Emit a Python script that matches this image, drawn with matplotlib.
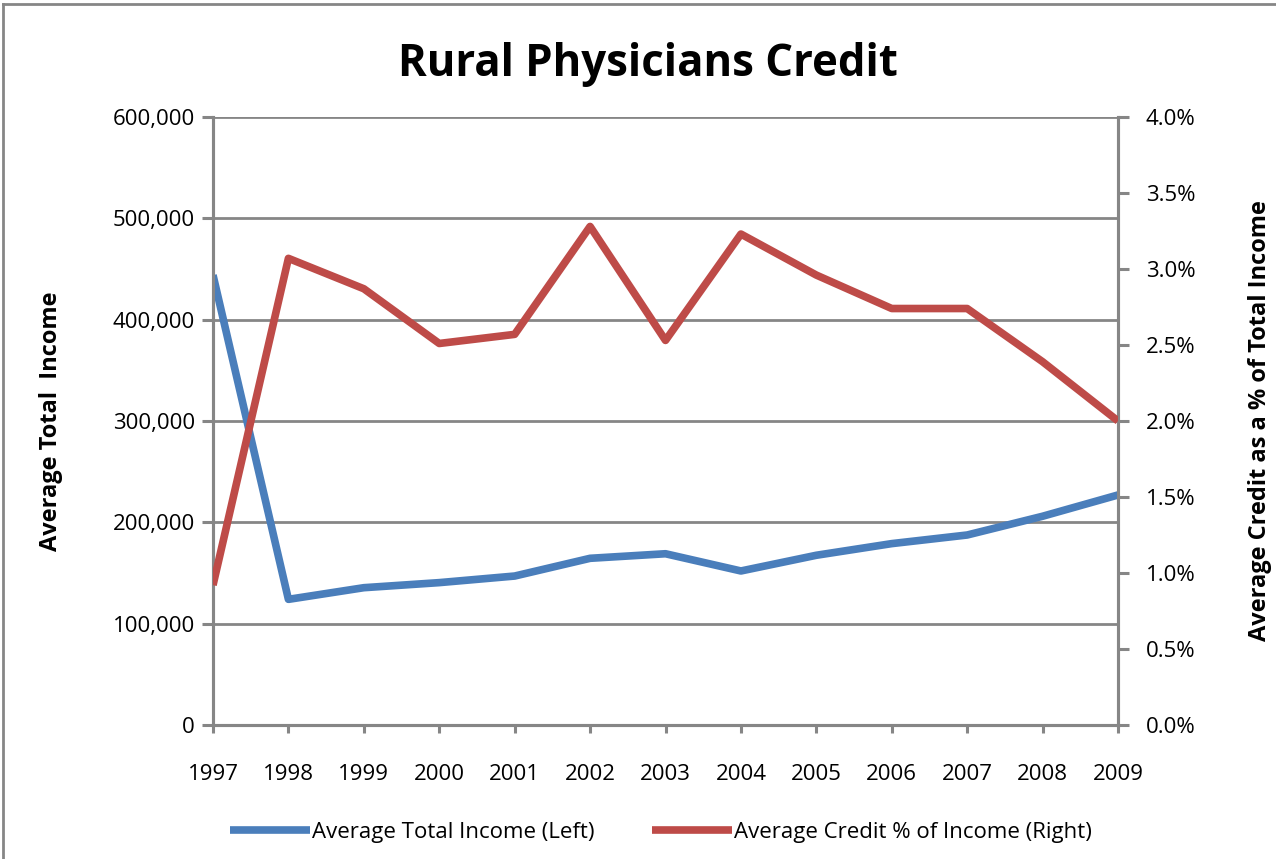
import numpy as np
import matplotlib.pyplot as plt
from matplotlib.lines import Line2D
from matplotlib.ticker import FuncFormatter, MultipleLocator

years = [1997, 1998, 1999, 2000, 2001, 2002, 2003, 2004, 2005, 2006, 2007, 2008, 2009]
avg_income = [444000, 124000, 135500, 140500, 147000, 164500, 169000, 152000,
              167500, 179000, 187500, 206000, 227000]
credit_pct = [0.92, 3.07, 2.87, 2.51, 2.57, 3.28, 2.53, 3.23, 2.96, 2.74, 2.74, 2.39, 2.00]

title = "Rural Physicians Credit"
left_label = "Average Total  Income"
right_label = "Average Credit as a % of Total Income"
income_name = "Average Total Income (Left)"
credit_name = "Average Credit % of Income (Right)"

blue = '#4A7EBB'
red = '#BE4B48'
grey = '#868686'

plt.rcParams['font.family'] = ['Open Sans', 'DejaVu Sans']

fig = plt.figure(figsize=(12.76, 8.59), dpi=100)
ax = fig.add_axes([213/1276, 1 - 725/859, (1118 - 213)/1276, (725 - 117)/859])
ax2 = ax.twinx()

# left axis: income
l1, = ax.plot(years, avg_income, color=blue, lw=5.5, solid_capstyle='butt', zorder=3)
ax.set_xlim(1997, 2009)
ax.set_ylim(0, 600000)
ax.yaxis.set_major_locator(MultipleLocator(100000))
ax.yaxis.set_major_formatter(FuncFormatter(lambda v, p: f"{int(v):,}"))
ax.set_xticks(years)
ax.grid(axis='y', color=grey, lw=2)
ax.set_axisbelow(True)

# right axis: credit %
l2, = ax2.plot(years, credit_pct, color=red, lw=5.5, solid_capstyle='butt', zorder=3)
ax2.set_ylim(0, 4.0)
ax2.yaxis.set_major_locator(MultipleLocator(0.5))
ax2.yaxis.set_major_formatter(FuncFormatter(lambda v, p: f"{v:.1f}%"))

for a in (ax, ax2):
    a.spines['top'].set_visible(False)
    for s in ('left', 'right', 'bottom'):
        a.spines[s].set_color(grey)
        a.spines[s].set_linewidth(2.2)
    a.tick_params(colors=grey, labelcolor='black', labelsize=16, width=2.2)
ax.tick_params(axis='y', length=8, pad=5)
ax.tick_params(axis='x', length=6, pad=22)
ax2.tick_params(axis='y', length=8, pad=12)

ax.set_ylabel(left_label, fontsize=17, fontweight='bold', labelpad=36)
ax2.set_ylabel(right_label, fontsize=17, fontweight='bold', labelpad=38)

fig.text(0.508, 0.925, title, ha='center', va='center', fontsize=31.5, fontweight='bold')

fig.legend([l1, l2], [income_name, credit_name], loc='center', bbox_to_anchor=(0.518, 0.031),
           ncol=2, frameon=False, fontsize=16, handlelength=3.6, handletextpad=0.1,
           columnspacing=2.6)

# chart border (top and left edges visible)
fig.add_artist(Line2D([3/1276, 1], [1 - 4/859, 1 - 4/859], color=grey, lw=2))
fig.add_artist(Line2D([3/1276, 3/1276], [0, 1 - 4/859], color=grey, lw=2))

fig.savefig('out.png', dpi=100)
